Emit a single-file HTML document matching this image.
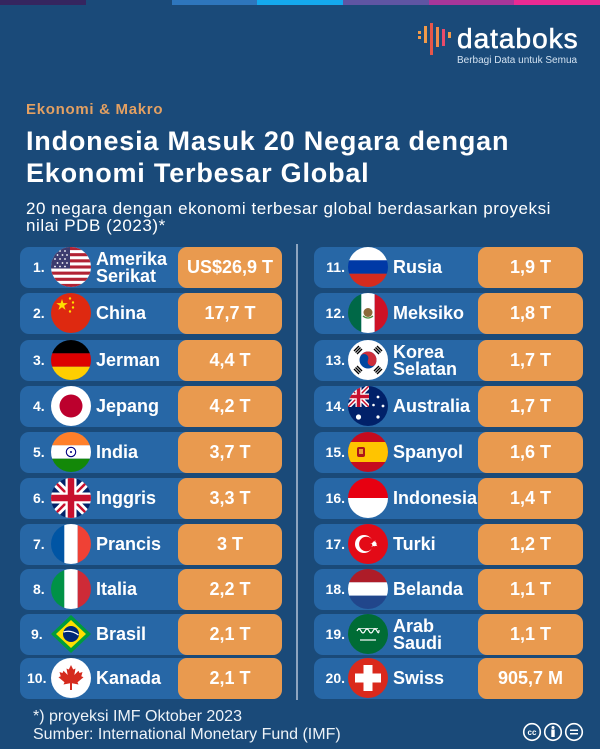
<!DOCTYPE html>
<html><head><meta charset="utf-8">
<style>
*{margin:0;padding:0;box-sizing:border-box}
html,body{width:600px;height:749px;overflow:hidden;background:#1a4a79}
body{position:relative;font-family:"Liberation Sans",sans-serif;color:#fff}
.abs{position:absolute}
.bar{position:absolute;top:0;height:5px}
.row{position:absolute;height:41px;background:#2767a6;border-radius:9px}
.num{position:absolute;top:0;height:41px;line-height:41px;font-weight:bold;font-size:14px;color:#fff;white-space:nowrap}
.flag{position:absolute;top:0;width:40px;height:40px;display:block}
.name{position:absolute;top:0;height:41px;display:flex;align-items:center;font-weight:bold;font-size:18px;line-height:17px;color:#fff;white-space:nowrap}
.val{position:absolute;top:0;height:41px;background:#e99a4f;border-radius:9px;display:flex;align-items:center;justify-content:center;font-weight:bold;font-size:18px;color:#fff;white-space:nowrap}
.L{left:20px;width:262px}
.L .flag{left:31px}
.L .name{left:76px}
.L .val{left:158px;width:104px}
.R{left:314px;width:269px}
.R .num{right:238px;text-align:right}
.R .flag{left:34px}
.R .name{left:79px}
.R .val{left:164px;width:105px}
</style></head><body>

<div class="bar" style="left:0;width:86px;background:#35255f"></div>
<div class="bar" style="left:172px;width:85px;background:#2e76bd"></div>
<div class="bar" style="left:257px;width:86px;background:#14a9ee"></div>
<div class="bar" style="left:343px;width:86px;background:#5f55a3"></div>
<div class="bar" style="left:429px;width:85px;background:#a8369a"></div>
<div class="bar" style="left:514px;width:86px;background:#ea2a93"></div>

<svg class="abs" style="left:416px;top:20px" width="40" height="40" viewBox="0 0 40 40">
 <rect x="2" y="11" width="3" height="3" fill="#f29a4a"/>
 <rect x="2" y="16" width="3" height="3" fill="#f29a4a"/>
 <rect x="8" y="6" width="3" height="17" fill="#f29a4a"/>
 <rect x="14" y="3" width="3" height="32" fill="#e6564a"/>
 <rect x="20" y="7" width="3" height="20" fill="#f08a4a"/>
 <rect x="26" y="9" width="3" height="17" fill="#e84b6a"/>
 <rect x="32" y="12" width="3" height="6" fill="#f29a4a"/>
</svg>
<div class="abs" style="left:457px;top:25px;font-size:28px;line-height:28px;letter-spacing:1px;color:#fff;-webkit-text-stroke:0.6px #fff">databoks</div>
<div class="abs" style="left:457px;top:56px;font-size:10px;line-height:10px;color:#d3e2f1;white-space:nowrap">Berbagi Data untuk Semua</div>

<div class="abs" style="left:26px;top:102px;font-size:15px;line-height:15px;font-weight:bold;letter-spacing:0.7px;color:#e3a062;white-space:nowrap">Ekonomi &amp; Makro</div>
<div class="abs" style="left:26px;top:125px;font-size:27px;line-height:32px;font-weight:bold;letter-spacing:0.8px;color:#fff;white-space:nowrap">Indonesia Masuk 20 Negara dengan<br>Ekonomi Terbesar Global</div>
<div class="abs" style="left:26px;top:200px;font-size:17px;line-height:17px;letter-spacing:0.55px;color:#fff;white-space:nowrap">20 negara dengan ekonomi terbesar global berdasarkan proyeksi<br>nilai PDB (2023)*</div>

<div class="abs" style="left:296px;top:244px;width:2px;height:456px;background:#8ea5c0"></div>

<div class="row L" style="top:247px"><div class="num" style="left:13px">1.</div>
<svg class="flag" viewBox="0 0 40 40"><defs><clipPath id="c1"><circle cx="20" cy="20" r="20"/></clipPath></defs><g clip-path="url(#c1)">
<rect width="40" height="40" fill="#fff"/>
<rect y="0" width="40" height="3.1" fill="#b22234"/><rect y="6.15" width="40" height="3.1" fill="#b22234"/><rect y="12.3" width="40" height="3.1" fill="#b22234"/><rect y="18.45" width="40" height="3.1" fill="#b22234"/><rect y="24.6" width="40" height="3.1" fill="#b22234"/><rect y="30.75" width="40" height="3.1" fill="#b22234"/><rect y="36.9" width="40" height="3.1" fill="#b22234"/>
<rect width="19" height="21.5" fill="#3c3b6e"/>
<g fill="#fff"><circle cx="4" cy="4" r="0.9"/><circle cx="9" cy="4" r="0.9"/><circle cx="14" cy="4" r="0.9"/><circle cx="6.5" cy="8" r="0.9"/><circle cx="11.5" cy="8" r="0.9"/><circle cx="16" cy="8" r="0.9"/><circle cx="4" cy="12" r="0.9"/><circle cx="9" cy="12" r="0.9"/><circle cx="14" cy="12" r="0.9"/><circle cx="6.5" cy="16" r="0.9"/><circle cx="11.5" cy="16" r="0.9"/><circle cx="16" cy="16" r="0.9"/><circle cx="4" cy="19.5" r="0.9"/><circle cx="9" cy="19.5" r="0.9"/><circle cx="14" cy="19.5" r="0.9"/></g>
</g></svg>
<div class="name">Amerika<br>Serikat</div><div class="val">US$26,9 T</div></div>

<div class="row L" style="top:293px"><div class="num" style="left:13px">2.</div>
<svg class="flag" viewBox="0 0 40 40"><circle cx="20" cy="20" r="20" fill="#de2910"/>
<polygon fill="#ffde00" points="11,6 12.35,10.15 16.71,10.15 13.18,12.71 14.53,16.85 11,14.29 7.47,16.85 8.82,12.71 5.29,10.15 9.65,10.15"/>
<g fill="#ffde00"><circle cx="19" cy="5.5" r="1.2"/><circle cx="22" cy="9.5" r="1.2"/><circle cx="22" cy="14.5" r="1.2"/><circle cx="19" cy="18.5" r="1.2"/></g></svg>
<div class="name">China</div><div class="val">17,7 T</div></div>

<div class="row L" style="top:340px"><div class="num" style="left:13px">3.</div>
<svg class="flag" viewBox="0 0 40 40"><defs><clipPath id="c3"><circle cx="20" cy="20" r="20"/></clipPath></defs><g clip-path="url(#c3)">
<rect width="40" height="13.4" fill="#000"/><rect y="13.3" width="40" height="13.4" fill="#dd0000"/><rect y="26.7" width="40" height="13.3" fill="#ffce00"/></g></svg>
<div class="name">Jerman</div><div class="val">4,4 T</div></div>

<div class="row L" style="top:386px"><div class="num" style="left:13px">4.</div>
<svg class="flag" viewBox="0 0 40 40"><circle cx="20" cy="20" r="20" fill="#fff"/><circle cx="20" cy="20" r="11.5" fill="#bc002d"/></svg>
<div class="name">Jepang</div><div class="val">4,2 T</div></div>

<div class="row L" style="top:432px"><div class="num" style="left:13px">5.</div>
<svg class="flag" viewBox="0 0 40 40"><defs><clipPath id="c5"><circle cx="20" cy="20" r="20"/></clipPath></defs><g clip-path="url(#c5)">
<rect width="40" height="13.4" fill="#ff7f2a"/><rect y="13.3" width="40" height="13.4" fill="#fff"/><rect y="26.7" width="40" height="13.3" fill="#138808"/></g>
<circle cx="20" cy="20" r="4.7" fill="none" stroke="#000080" stroke-width="1.1"/><circle cx="20" cy="20" r="1" fill="#000080"/></svg>
<div class="name">India</div><div class="val">3,7 T</div></div>

<div class="row L" style="top:478px"><div class="num" style="left:13px">6.</div>
<svg class="flag" viewBox="0 0 40 40"><defs><clipPath id="c6"><circle cx="20" cy="20" r="20"/></clipPath></defs><g clip-path="url(#c6)">
<rect width="40" height="40" fill="#012169"/>
<path d="M0,0 L40,40 M40,0 L0,40" stroke="#fff" stroke-width="8"/>
<path d="M0,0 L40,40 M40,0 L0,40" stroke="#c8102e" stroke-width="2.5"/>
<path d="M20,0 V40 M0,20 H40" stroke="#fff" stroke-width="11"/>
<path d="M20,0 V40 M0,20 H40" stroke="#c8102e" stroke-width="6.5"/></g></svg>
<div class="name">Inggris</div><div class="val">3,3 T</div></div>

<div class="row L" style="top:524px"><div class="num" style="left:13px">7.</div>
<svg class="flag" viewBox="0 0 40 40"><defs><clipPath id="c7"><circle cx="20" cy="20" r="20"/></clipPath></defs><g clip-path="url(#c7)">
<rect width="13.4" height="40" fill="#0055a4"/><rect x="13.3" width="13.4" height="40" fill="#fff"/><rect x="26.7" width="13.3" height="40" fill="#ef4135"/></g></svg>
<div class="name">Prancis</div><div class="val">3 T</div></div>

<div class="row L" style="top:569px"><div class="num" style="left:13px">8.</div>
<svg class="flag" viewBox="0 0 40 40"><defs><clipPath id="c8"><circle cx="20" cy="20" r="20"/></clipPath></defs><g clip-path="url(#c8)">
<rect width="13.4" height="40" fill="#009246"/><rect x="13.3" width="13.4" height="40" fill="#fff"/><rect x="26.7" width="13.3" height="40" fill="#ce2b37"/></g></svg>
<div class="name">Italia</div><div class="val">2,2 T</div></div>

<div class="row L" style="top:614px"><div class="num" style="left:11px">9.</div>
<svg class="flag" viewBox="0 0 40 40">
<polygon points="20,1 40,20 20,39 0,20" fill="#009c3b"/>
<polygon points="20,6 35,20 20,34 5,20" fill="#ffdf00"/>
<circle cx="20" cy="20" r="8" fill="#002776"/>
<path d="M12.5,18 Q20,15.5 27.5,21" stroke="#fff" stroke-width="1.3" fill="none"/></svg>
<div class="name">Brasil</div><div class="val">2,1 T</div></div>

<div class="row L" style="top:658px"><div class="num" style="left:7px">10.</div>
<svg class="flag" viewBox="0 0 40 40"><circle cx="20" cy="20" r="20" fill="#fff"/>
<path fill="#d52b1e" d="M20,7 L22.2,11.5 L24.5,10.5 L23.3,17 L27.5,12.8 L28.5,15 L31.5,14 L30.3,18.3 L32.5,19.3 L26.5,24.3 L27.5,26.5 L21,25.3 L21,32 L19,32 L19,25.3 L12.5,26.5 L13.5,24.3 L7.5,19.3 L9.7,18.3 L8.5,14 L11.5,15 L12.5,12.8 L16.7,17 L15.5,10.5 L17.8,11.5 Z"/></svg>
<div class="name">Kanada</div><div class="val">2,1 T</div></div>

<div class="row R" style="top:247px"><div class="num">11.</div>
<svg class="flag" viewBox="0 0 40 40"><defs><clipPath id="c11"><circle cx="20" cy="20" r="20"/></clipPath></defs><g clip-path="url(#c11)">
<rect width="40" height="13.4" fill="#fff"/><rect y="13.3" width="40" height="13.4" fill="#0039a6"/><rect y="26.7" width="40" height="13.3" fill="#d52b1e"/></g></svg>
<div class="name">Rusia</div><div class="val">1,9 T</div></div>

<div class="row R" style="top:293px"><div class="num">12.</div>
<svg class="flag" viewBox="0 0 40 40"><defs><clipPath id="c12"><circle cx="20" cy="20" r="20"/></clipPath></defs><g clip-path="url(#c12)">
<rect width="13.4" height="40" fill="#006847"/><rect x="13.3" width="13.4" height="40" fill="#fff"/><rect x="26.7" width="13.3" height="40" fill="#ce1126"/></g>
<ellipse cx="20" cy="19.5" rx="4.5" ry="4.5" fill="#8c6a3a"/><path d="M15,23 Q20,27 25,23" stroke="#4a8a3a" stroke-width="1.3" fill="none"/></svg>
<div class="name">Meksiko</div><div class="val">1,8 T</div></div>

<div class="row R" style="top:340px"><div class="num">13.</div>
<svg class="flag" viewBox="0 0 40 40"><circle cx="20" cy="20" r="20" fill="#fff"/>
<circle cx="20" cy="20" r="8.5" fill="#0047a0"/>
<path d="M11.5,20 A8.5,8.5 0 0 1 28.5,20 A4.25,4.25 0 0 1 20,20 A4.25,4.25 0 0 0 11.5,20 Z" fill="#cd2e3a" transform="rotate(25 20 20)"/>
<g stroke="#000" stroke-width="1.4">
<path d="M6,11 L11,6 M7.5,12.5 L12.5,7.5 M9,14 L14,9"/>
<path d="M29,6 L34,11 M27.5,7.5 L32.5,12.5 M26,9 L31,14"/>
<path d="M6,29 L11,34 M7.5,27.5 L12.5,32.5 M9,26 L14,31"/>
<path d="M29,34 L34,29 M27.5,32.5 L32.5,27.5 M26,31 L31,26"/></g></svg>
<div class="name">Korea<br>Selatan</div><div class="val">1,7 T</div></div>

<div class="row R" style="top:386px"><div class="num">14.</div>
<svg class="flag" viewBox="0 0 40 40"><defs><clipPath id="c14"><circle cx="20" cy="20" r="20"/></clipPath><clipPath id="c14b"><rect width="21" height="21"/></clipPath></defs><g clip-path="url(#c14)">
<rect width="40" height="40" fill="#012169"/>
<g clip-path="url(#c14b)">
<path d="M0,0 L21,21 M21,0 L0,21" stroke="#fff" stroke-width="4.5"/>
<path d="M0,0 L21,21 M21,0 L0,21" stroke="#c8102e" stroke-width="1.5"/>
<path d="M10.5,0 V21 M0,10.5 H21" stroke="#fff" stroke-width="6"/>
<path d="M10.5,0 V21 M0,10.5 H21" stroke="#c8102e" stroke-width="3.5"/></g>
<g fill="#fff"><circle cx="10.5" cy="31" r="2.6"/><circle cx="30" cy="11" r="1.4"/><circle cx="35" cy="20" r="1.4"/><circle cx="30" cy="31" r="1.6"/><circle cx="25.5" cy="19" r="1.3"/></g></g></svg>
<div class="name">Australia</div><div class="val">1,7 T</div></div>

<div class="row R" style="top:432px"><div class="num">15.</div>
<svg class="flag" viewBox="0 0 40 40"><defs><clipPath id="c15"><circle cx="20" cy="20" r="20"/></clipPath></defs><g clip-path="url(#c15)">
<rect width="40" height="40" fill="#c60b1e"/><rect y="10" width="40" height="20" fill="#ffc400"/>
<rect x="9" y="15" width="8" height="10" rx="2" fill="#ad1519"/><rect x="11" y="17" width="4" height="5" fill="#e8a030"/></g></svg>
<div class="name">Spanyol</div><div class="val">1,6 T</div></div>

<div class="row R" style="top:478px"><div class="num">16.</div>
<svg class="flag" viewBox="0 0 40 40"><defs><clipPath id="c16"><circle cx="20" cy="20" r="20"/></clipPath></defs><g clip-path="url(#c16)">
<rect width="40" height="20" fill="#e70011"/><rect y="20" width="40" height="20" fill="#fff"/></g></svg>
<div class="name">Indonesia</div><div class="val">1,4 T</div></div>

<div class="row R" style="top:524px"><div class="num">17.</div>
<svg class="flag" viewBox="0 0 40 40"><circle cx="20" cy="20" r="20" fill="#e30a17"/>
<circle cx="16" cy="20" r="9" fill="#fff"/><circle cx="18.3" cy="20" r="7.2" fill="#e30a17"/>
<polygon fill="#fff" points="22,20 25.3,18.9 27.3,16.1 27.3,19.5 29.5,22.3 26.2,21.3 23.2,23.2 25.2,20.4 25.2,17 27.2,19.8"/>
<circle cx="26.3" cy="20" r="2.3" fill="#fff"/></svg>
<div class="name">Turki</div><div class="val">1,2 T</div></div>

<div class="row R" style="top:569px"><div class="num">18.</div>
<svg class="flag" viewBox="0 0 40 40"><defs><clipPath id="c18"><circle cx="20" cy="20" r="20"/></clipPath></defs><g clip-path="url(#c18)">
<rect width="40" height="13.4" fill="#ae1c28"/><rect y="13.3" width="40" height="13.4" fill="#fff"/><rect y="26.7" width="40" height="13.3" fill="#21468b"/></g></svg>
<div class="name">Belanda</div><div class="val">1,1 T</div></div>

<div class="row R" style="top:614px"><div class="num">19.</div>
<svg class="flag" viewBox="0 0 40 40"><circle cx="20" cy="20" r="20" fill="#006c35"/>
<path d="M9,17 Q11,13 13,17 T17,17 T21,17 T25,17 T29,17 T31,16" stroke="#fff" stroke-width="1.2" fill="none"/>
<path d="M10,14.5 H30" stroke="#fff" stroke-width="0.8"/>
<path d="M12,26 H28" stroke="#fff" stroke-width="1.2"/></svg>
<div class="name">Arab<br>Saudi</div><div class="val">1,1 T</div></div>

<div class="row R" style="top:658px"><div class="num">20.</div>
<svg class="flag" viewBox="0 0 40 40"><circle cx="20" cy="20" r="20" fill="#da291c"/>
<rect x="15.5" y="7" width="9" height="26" fill="#fff"/><rect x="7" y="15.5" width="26" height="9" fill="#fff"/></svg>
<div class="name">Swiss</div><div class="val">905,7 M</div></div>

<div class="abs" style="left:33px;top:708px;font-size:16px;line-height:18px;color:#eef3f8;white-space:nowrap">*) proyeksi IMF Oktober 2023<br>Sumber: International Monetary Fund (IMF)</div>

<svg class="abs" style="left:520px;top:721px" width="66" height="22" viewBox="0 0 66 22">
<g fill="none" stroke="#fff" stroke-width="1.6">
<circle cx="12" cy="11" r="8.3"/><circle cx="33" cy="11" r="8.3"/><circle cx="54" cy="11" r="8.3"/></g>
<text x="12" y="14" font-family="Liberation Sans" font-weight="bold" font-size="8" fill="#fff" text-anchor="middle">cc</text>
<circle cx="33" cy="6.5" r="1.5" fill="#fff"/><rect x="31.3" y="8.5" width="3.4" height="7.5" fill="#fff"/>
<rect x="50" y="8.5" width="8" height="1.5" fill="#fff"/><rect x="50" y="12" width="8" height="1.5" fill="#fff"/>
</svg>

</body></html>
